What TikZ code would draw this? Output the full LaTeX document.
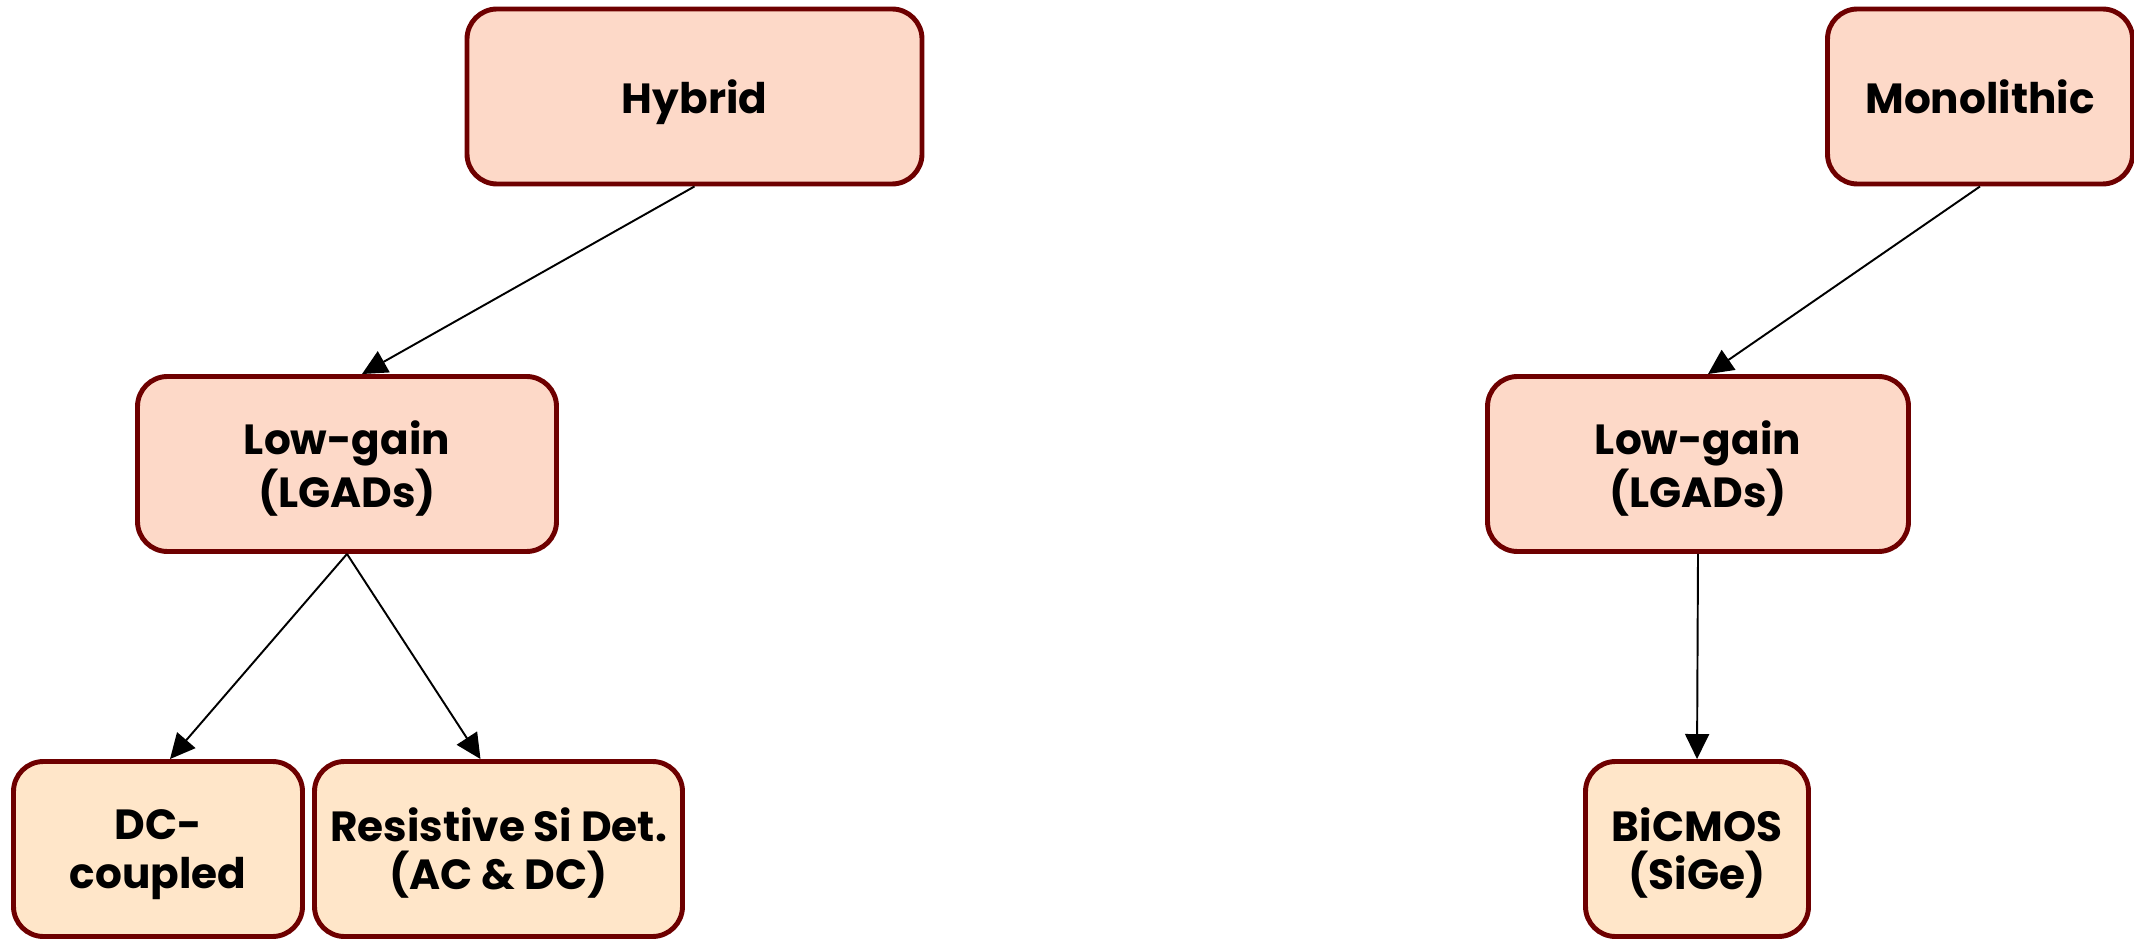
\documentclass[tikz,border=0pt]{standalone}
\usepackage{fontspec}
\setmainfont{Poppins}
\usetikzlibrary{arrows.meta,calc}

\definecolor{boxline}{HTML}{6E0000}
\definecolor{peach}{HTML}{FDD9C8}
\definecolor{cream}{HTML}{FFE6C9}

\tikzset{
    tipo/.style={draw=boxline, line width=1.4pt, rounded corners=0.3cm,
        fill=peach, align=center, inner sep=0pt, text depth=0pt,
        font=\bfseries\fontsize{12}{13.7}\selectfont},
    hoja/.style={tipo, fill=cream, minimum height=1.75cm},
    flecha/.style={line width=0.55pt, -{Triangle[length=0.25cm,width=0.24cm]}}
}

\begin{document}
\begin{tikzpicture}

    \useasboundingbox (0,0) rectangle (21.34,-9.39);

    % Tecnologias
    \node[tipo, minimum width=4.55cm, minimum height=1.75cm] (hyb) at (6.945,-0.965) {Hybrid};
    \node[tipo, minimum width=3.05cm, minimum height=1.75cm] (mono) at (19.80,-0.965) {Monolithic};

    % Sensores con ganancia
    \node[tipo, minimum width=4.19cm, minimum height=1.75cm] (lgl) at (3.47,-4.64) {Low-gain\\(LGADs)};
    \node[tipo, minimum width=4.21cm, minimum height=1.75cm] (lgr) at (16.98,-4.64) {Low-gain\\(LGADs)};

    % Variantes
    \node[hoja, minimum width=2.89cm] (dcc) at (1.58,-8.49) {DC-\\coupled};
    \node[hoja, minimum width=3.68cm] (rsd) at (4.985,-8.49) {Resistive Si Det.\\(AC \& DC)};
    \node[hoja, minimum width=2.23cm] (bic) at (16.97,-8.49) {BiCMOS\\(SiGe)};

    % Conexiones
    \draw[flecha] (hyb.south) -- ([xshift=0.15cm]lgl.north);
    \draw[flecha] (lgl.south) -- ([xshift=0.12cm]dcc.north);
    \draw[flecha] (lgl.south) -- ([xshift=-0.18cm]rsd.north);
    \draw[flecha] (mono.south) -- ([xshift=0.10cm]lgr.north);
    \draw[flecha] (lgr.south) -- (bic.north);

\end{tikzpicture}
\end{document}
